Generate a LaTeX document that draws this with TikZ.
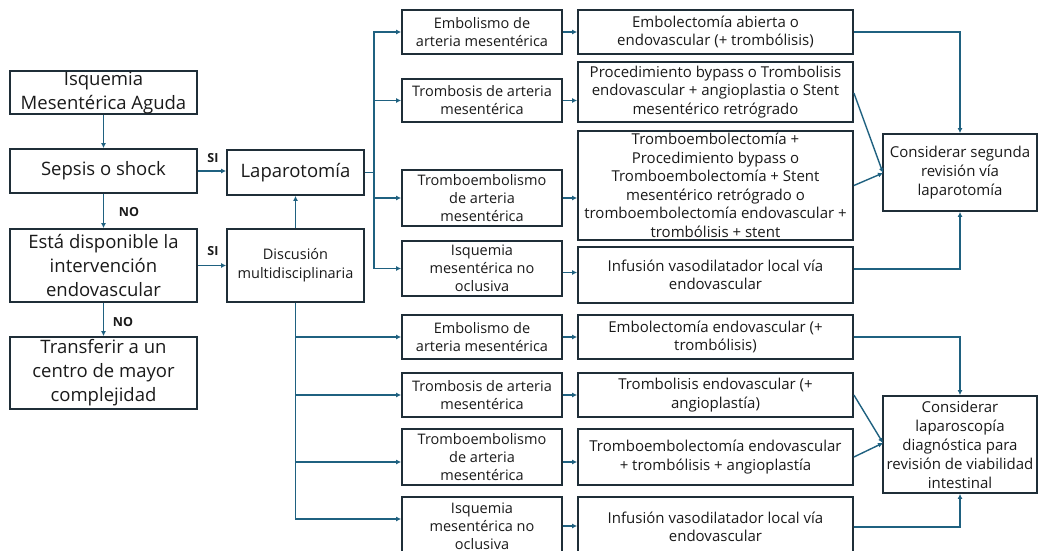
\documentclass[tikz,border=0pt]{standalone}
\usepackage{fontspec}
\setmainfont{Open Sans}
\usetikzlibrary{arrows.meta,calc}
\definecolor{boxc}{HTML}{1F2E38}
\definecolor{arrc}{HTML}{1F6180}
\definecolor{txt}{HTML}{1A1A1A}
\tikzset{
  box/.style={draw=boxc, line width=1.8pt, align=center, inner sep=0pt, text=txt},
  big/.style={font=\fontsize{18.5}{24}\selectfont},
  mid/.style={font=\fontsize{14.5}{18}\selectfont},
  rt/.style={font=\fontsize{15}{18.5}\selectfont},
  cons/.style={font=\fontsize{15}{19}\selectfont},
  arr/.style={draw=arrc, line width=1.4pt, -{Latex[length=5pt,width=5pt]}},
  lbl/.style={font=\fontsize{12.5}{14}\selectfont\bfseries, text=txt, inner sep=0pt},
}
\begin{document}
\begin{tikzpicture}[x=1pt,y=-1pt]
\useasboundingbox[fill=white] (0,0) rectangle (1039,551);

% left column
\node[box,big,minimum width=187pt,minimum height=43pt] (isq) at (103.5,92.5) {Isquemia\\Mesentérica Aguda};
\node[box,big,minimum width=187pt,minimum height=44pt] (sep) at (103.5,171) {Sepsis o shock};
\node[box,big,minimum width=187pt,minimum height=73pt] (est) at (103.5,265.5) {Está disponible la\\intervención\\endovascular};
\node[box,big,minimum width=187pt,minimum height=72pt] (tra) at (103.5,373) {Transferir a un\\centro de mayor\\complejidad};

\node[box,big,minimum width=137pt,minimum height=45pt] (lap) at (295.5,172.5) {Laparotomía};
\node[box,font=\fontsize{14.5}{19}\selectfont,minimum width=137pt,minimum height=73pt] (dis) at (295.5,265.5) {Discusión\\multidisciplinaria};

% upper middle column
\node[box,mid,minimum width=160pt,minimum height=44pt] (mu1) at (482,32) {Embolismo de\\arteria mesentérica};
\node[box,mid,minimum width=160pt,minimum height=43pt] (mu2) at (482,100.5) {Trombosis de arteria\\mesentérica};
\node[box,mid,minimum width=160pt,minimum height=56pt] (mu3) at (482,198) {Tromboembolismo\\de arteria\\mesentérica};
\node[box,mid,minimum width=160pt,minimum height=55pt] (mu4) at (482,268.5) {Isquemia\\mesentérica no\\oclusiva};

% lower middle column
\node[box,mid,minimum width=160pt,minimum height=44pt] (ml1) at (482,337) {Embolismo de\\arteria mesentérica};
\node[box,mid,minimum width=160pt,minimum height=44pt] (ml2) at (482,395) {Trombosis de arteria\\mesentérica};
\node[box,mid,minimum width=160pt,minimum height=56pt] (ml3) at (482,457) {Tromboembolismo\\de arteria\\mesentérica};
\node[box,mid,minimum width=160pt,minimum height=58pt] (ml4) at (482,526) {Isquemia\\mesentérica no\\oclusiva};

% upper right column
\node[box,rt,minimum width=275pt,minimum height=44pt] (ru1) at (715.5,32) {Embolectomía abierta o\\endovascular (+ trombólisis)};
\node[box,rt,minimum width=275pt,minimum height=60pt] (ru2) at (715.5,92) {Procedimiento bypass o Trombolisis\\endovascular + angioplastia o Stent\\mesentérico retrógrado};
\node[box,rt,minimum width=275pt,minimum height=109pt] (ru3) at (715.5,185.5) {Tromboembolectomía +\\Procedimiento bypass o\\Tromboembolectomía + Stent\\mesentérico retrógrado o\\tromboembolectomía endovascular +\\trombólisis + stent};
\node[box,rt,minimum width=275pt,minimum height=56pt] (ru4) at (715.5,275) {Infusión vasodilatador local vía\\endovascular};

% lower right column
\node[box,rt,minimum width=275pt,minimum height=44pt] (rl1) at (715.5,337) {Embolectomía endovascular (+\\trombólisis)};
\node[box,rt,minimum width=275pt,minimum height=44pt] (rl2) at (715.5,395) {Trombolisis endovascular (+\\angioplastía)};
\node[box,rt,minimum width=275pt,minimum height=56pt] (rl3) at (715.5,457) {Tromboembolectomía endovascular\\+ trombólisis + angioplastía};
\node[box,rt,minimum width=275pt,minimum height=60pt] (rl4) at (715.5,527) {Infusión vasodilatador local vía\\endovascular};

% outcome boxes
\node[box,cons,minimum width=154pt,minimum height=77pt] (cs) at (960,172.5) {Considerar segunda\\revisión vía\\laparotomía};
\node[box,cons,minimum width=154pt,minimum height=97pt] (cl) at (960,444.5) {Considerar\\laparoscopía\\diagnóstica para\\revisión de viabilidad\\intestinal};

% left flow
\draw[arr] (isq) -- (sep);
\draw[arr] (sep) -- (sep -| lap.west);
\draw[arr] (sep) -- (est);
\draw[arr] (est) -- (est -| dis.west);
\draw[arr] (est) -- (tra);
\draw[arr] (dis) -- (lap);
\node[lbl] (si1) at (213,158) {SI};
\node[lbl] (no1) at (129,212) {NO};
\node[lbl] (si2) at (213,251) {SI};
\node[lbl] (no2) at (123,322) {NO};

% laparotomy branches
\coordinate (bu) at (374,172.5);
\draw[arrc,line width=1.4pt] (lap.east) -- (bu);
\draw[arr] (bu) |- (mu1.west);
\draw[arr] (bu) |- (mu2.west);
\draw[arr] (bu) |- (mu3.west);
\draw[arr] (bu) |- (mu4.west);

% discussion branches
\draw[arr] (dis.south) |- (ml1.west);
\draw[arr] (dis.south) |- (ml2.west);
\draw[arr] (dis.south) |- ([yshift=-5pt]ml3.west);
\draw[arr] (dis.south) |- ([yshift=7pt]ml4.west);

% middle to right
\draw[arr] (mu1.east) -- (mu1.east -| ru1.west);
\draw[arr] (mu2.east) -- (mu2.east -| ru2.west);
\draw[arr] (mu3.east) -- (mu3.east -| ru3.west);
\draw[arr] ([yshift=-4pt]mu4.east) -- ([yshift=-4pt]mu4.east -| ru4.west);
\draw[arr] (ml1.east) -- (ml1.east -| rl1.west);
\draw[arr] (ml2.east) -- (ml2.east -| rl2.west);
\draw[arr] ([yshift=-5pt]ml3.east) -- ([yshift=-5pt]ml3.east -| rl3.west);
\draw[arr] (ml4.east) -- (ml4.east -| rl4.west);

% right to outcomes
\coordinate (csin) at (883,173);
\coordinate (clin) at (883,443);
\draw[arr] (ru1.east) -| (cs.north);
\draw[arr] ([yshift=-1pt]ru2.east) -- (csin);
\draw[arr] (ru3.east) -- (csin);
\draw[arr] ([yshift=6pt]ru4.east) -| (cs.south);
\draw[arr] (rl1.east) -| (cl.north);
\draw[arr] (rl2.east) -- (clin);
\draw[arr] (rl3.east) -- (clin);
\draw[arr] (rl4.east) -| (cl.south);
\end{tikzpicture}
\end{document}
